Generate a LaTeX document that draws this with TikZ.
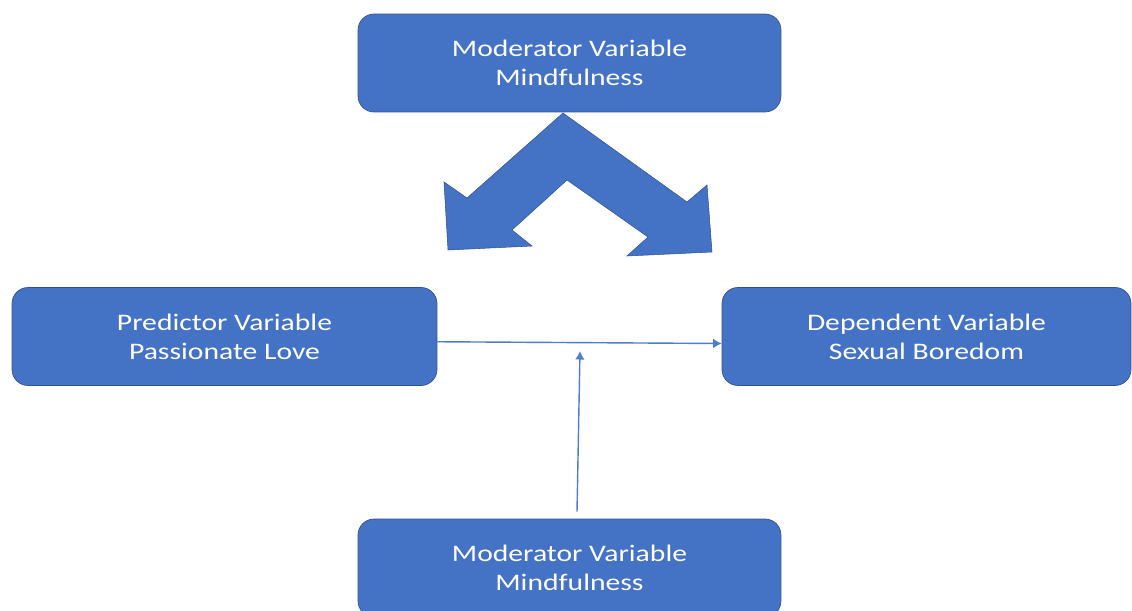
\documentclass[tikz,border=0pt]{standalone}
\usepackage{fontspec}
\setmainfont{Carlito}[FakeStretch=1.25]
\usepackage{tikz}
\usetikzlibrary{arrows.meta}
\usepackage{xcolor}
\definecolor{boxblue}{RGB}{68,114,196}
\definecolor{boxline}{RGB}{47,82,143}
\definecolor{arrowblue}{RGB}{78,124,206}

\begin{document}
\begin{tikzpicture}[x=0.02cm, y=-0.02cm,
		varbox/.style={draw=boxline, fill=boxblue, rounded corners=0.32cm, text=white, align=center,
			minimum height=1.96cm, font=\fontsize{13.5}{16.5}\selectfont},
		thinarrow/.style={arrowblue, line width=0.8pt, -{Latex[length=0.17cm, width=0.19cm]}}]
		\useasboundingbox (0,0) rectangle (1132,611);
		\clip (0,0) rectangle (1132,611);
		\node[varbox, minimum width=8.46cm] (modtop) at (569.5,63) {Moderator Variable\\Mindfulness};
		\node[varbox, minimum width=8.5cm] (pred) at (224.5,336.5) {Predictor Variable\\Passionate Love};
		\node[varbox, minimum width=8.18cm] (dep) at (926.5,336.5) {Dependent Variable\\Sexual Boredom};
		\node[varbox, minimum width=8.46cm] (modbot) at (569.5,568) {Moderator Variable\\Mindfulness};
%		two headed bent arrow under the top box
		\draw[boxline, fill=boxblue, line width=0.3pt] (563,113) -- (467,198) -- (444,182) -- (448,250)
			-- (532,246) -- (512,230) -- (567,180) -- (648,237) -- (627,256) -- (712,252)
			-- (707,185) -- (687,202) -- cycle;
		\coordinate (mid) at (580,351);
		\draw[thinarrow] ([yshift=-0.105cm]pred.east) -- ([yshift=-0.14cm]dep.west);
		\draw[thinarrow] ([xshift=0.15cm, yshift=0.14cm]modbot.north) -- (mid);
	\end{tikzpicture}
\end{document}
